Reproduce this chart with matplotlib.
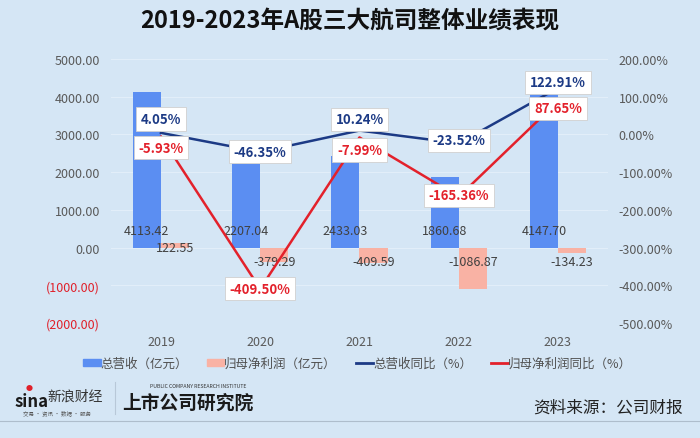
import matplotlib
matplotlib.use('Agg')
import matplotlib.pyplot as plt
import numpy as np
from matplotlib.patches import Patch
from matplotlib.lines import Line2D

plt.rcParams['font.family'] = ['Noto Sans CJK SC', 'DejaVu Sans']

# data
years = ['2019', '2020', '2021', '2022', '2023']
revenue = [4113.42, 2207.04, 2433.03, 1860.68, 4147.70]          # 亿元
net_profit = [122.55, -379.29, -409.59, -1086.87, -134.23]       # 亿元
revenue_yoy = [4.05, -46.35, 10.24, -23.52, 122.91]              # %
profit_yoy = [-5.93, -409.50, -7.99, -165.36, 87.65]             # %

bg = '#d5e6f5'
c_rev = '#5b8ef2'
c_prof = '#f9b2a4'
c_rev_line = '#1c3a85'
c_prof_line = '#e3212b'
txt = '#404040'

fig = plt.figure(figsize=(7, 4.39), dpi=100, facecolor=bg)
ax = fig.add_axes([0.159, 0.262, 0.709, 0.6014])
ax.set_facecolor(bg)
ax2 = ax.twinx()

x = np.arange(len(years))
w = 0.283
ax.bar(x - w / 2, revenue, w, color=c_rev, zorder=2)
ax.bar(x + w / 2, net_profit, w, color=c_prof, zorder=2)

ax.set_ylim(-2000, 5000)
ax.set_xlim(-0.5, len(years) - 0.5)
left_ticks = np.arange(-2000, 5001, 1000)
ax.set_yticks(left_ticks)
ax.set_yticklabels([f'({abs(v):.2f})' if v < 0 else f'{v:.2f}' for v in left_ticks])
for lab, v in zip(ax.get_yticklabels(), left_ticks):
    lab.set_color('#e0202a' if v < 0 else '#595959')
ax.set_xticks(x)
ax.set_xticklabels(years, color='#595959', fontsize=9)
ax.tick_params(axis='both', length=0, labelsize=9, pad=8)
ax.tick_params(axis='x', pad=9)
ax.grid(axis='y', color='#e2eef9', linewidth=0.8, zorder=0)
for s in ax.spines.values():
    s.set_visible(False)

# bar value labels
for i in range(len(years)):
    ax.annotate(f'{revenue[i]:.2f}', (x[i] - w / 2, 0), xytext=(0, 12), textcoords='offset points',
                ha='center', va='center', fontsize=9, color=txt, zorder=5)
    off = 0 if net_profit[i] > 0 else -10
    ax.annotate(f'{net_profit[i]:.2f}', (x[i] + w / 2, 0), xytext=(0, off), textcoords='offset points',
                ha='center', va='center', fontsize=9, color=txt, zorder=5)

right_ticks = np.arange(-500, 201, 100)
ax2.set_ylim(-500, 200)
ax2.set_yticks(right_ticks)
ax2.set_yticklabels([f'{v:.2f}%' for v in right_ticks], color='#595959')
ax2.tick_params(axis='y', length=0, labelsize=9, pad=8)
for s in ax2.spines.values():
    s.set_visible(False)

ax2.plot(x, revenue_yoy, color=c_rev_line, linewidth=1.8, zorder=3)
ax2.plot(x, profit_yoy, color=c_prof_line, linewidth=1.8, zorder=3)

rev_off = [10, 0, 8, 2, 4]
prof_off = [-8, 0, -9, 1, -5]
box = dict(boxstyle='square,pad=0.35', fc='white', ec='#d0d0d0', lw=0.6)
for i in range(len(years)):
    ax2.annotate(f'{revenue_yoy[i]:.2f}%', (x[i], revenue_yoy[i]), xytext=(0, rev_off[i]),
                 textcoords='offset points', ha='center', va='center', fontsize=9.5,
                 fontweight='bold', color=c_rev_line, bbox=box, zorder=6)
    ax2.annotate(f'{profit_yoy[i]:.2f}%', (x[i], profit_yoy[i]), xytext=(0, prof_off[i]),
                 textcoords='offset points', ha='center', va='center', fontsize=9.5,
                 fontweight='bold', color=c_prof_line, bbox=box, zorder=6)

# title
fig.text(0.5, 1 - 21 / 439, '2019-2023年A股三大航司整体业绩表现', ha='center', va='center',
         fontsize=17, fontweight='bold', color='#111111')

# legend
handles = [Patch(color=c_rev), Patch(color=c_prof),
           Line2D([], [], color=c_rev_line, lw=2), Line2D([], [], color=c_prof_line, lw=2)]
labels = ['总营收（亿元）', '归母净利润（亿元）', '总营收同比（%）', '归母净利润同比（%）']
fig.legend(handles, labels, loc='center', bbox_to_anchor=(0.511, 1 - 364 / 439), ncol=4,
           frameon=False, fontsize=9, labelcolor='#505050', handlelength=1.4, handleheight=0.5,
           handletextpad=0.0, columnspacing=1.5)

# footer
fig.text(0.021, 1 - 402 / 439, 'sina', fontsize=12, fontweight='bold', style='italic',
         color='#1a1a1a', ha='left', va='center')
fig.text(0.036, 1 - 389 / 439, '●', fontsize=5, color='#e0202a', ha='left', va='center')
fig.text(0.068, 1 - 397 / 439, '新浪财经', fontsize=10, style='italic', color='#333333',
         ha='left', va='center')
fig.text(0.033, 1 - 413 / 439, '交易 · 资讯 · 数据 · 服务', fontsize=4, color='#555555',
         ha='left', va='center')
fig.add_artist(Line2D([0.164, 0.164], [1 - 415 / 439, 1 - 383 / 439], color='#b8c8d8', lw=0.8))
fig.text(0.174, 1 - 403 / 439, '上市公司研究院', fontsize=13.5, fontweight='bold', style='italic',
         color='#1a1a1a', ha='left', va='center')
fig.text(0.214, 1 - 387 / 439, 'PUBLIC COMPANY RESEARCH INSTITUTE', fontsize=3.7,
         color='#333333', ha='left', va='center')
fig.text(0.975, 1 - 408 / 439, '资料来源：公司财报', fontsize=12, color='#222222',
         ha='right', va='center')
fig.add_artist(Line2D([0, 1], [1 - 422 / 439, 1 - 422 / 439], color='#aebdcc', lw=0.8))

fig.savefig('out.png', dpi=100, facecolor=bg)
